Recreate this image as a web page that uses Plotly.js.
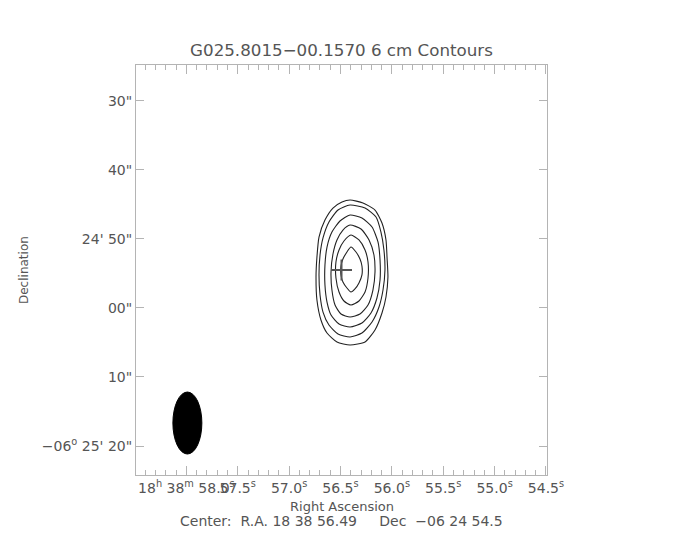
<!DOCTYPE html>
<html>
<head>
<meta charset="utf-8">
<script src="https://cdn.plot.ly/plotly-3.0.1.min.js"></script>
<style>html,body{margin:0;padding:0;background:#fff;}#plot{width:684px;height:540px;}</style>
</head>
<body>
<div id="plot"></div>
<script>
// Axis ticks: RA seconds (18h 38m xx.x s) and Dec arcsec south of -06d 24' 00"
const raTicks = [58.0, 57.5, 57.0, 56.5, 56.0, 55.5, 55.0, 54.5];
const raLabels = ["18<sup>h</sup> 38<sup>m</sup> 58.0<sup>s</sup>", "57.5<sup>s</sup>", "57.0<sup>s</sup>", "56.5<sup>s</sup>", "56.0<sup>s</sup>", "55.5<sup>s</sup>", "55.0<sup>s</sup>", "54.5<sup>s</sup>"];
const decTicks = [30, 40, 50, 60, 70, 80];
const decLabels = ["30\"", "40\"", "24' 50\"", "00\"", "10\"", "\u221206<sup>o</sup> 25' 20\""];

// Contour levels (outer to inner), RA seconds / Dec arcsec
const c1ra  = [56.407,56.281,56.164,56.096,56.057,56.047,56.038,56.057,56.096,56.164,56.261,56.407,56.534,56.631,56.690,56.729,56.738,56.729,56.709,56.651,56.573,56.485];
const c1dec = [44.36,44.79,45.81,47.69,50.15,52.62,55.51,58.41,60.73,63.19,64.93,65.37,64.93,63.63,61.74,58.85,55.51,52.62,49.72,47.26,45.52,44.65];
const c2ra  = [56.407,56.261,56.154,56.106,56.077,56.067,56.086,56.125,56.193,56.291,56.407,56.524,56.612,56.670,56.699,56.709,56.699,56.670,56.612,56.524];
const c2dec = [45.08,45.52,46.82,49.00,51.60,54.50,57.40,59.86,62.03,63.63,64.21,63.77,62.47,60.59,58.12,55.22,52.33,49.86,47.55,45.81];
const c3ra  = [56.407,56.291,56.193,56.135,56.115,56.115,56.145,56.203,56.291,56.407,56.514,56.592,56.631,56.651,56.651,56.631,56.583,56.505];
const c3dec = [46.53,46.97,48.27,50.44,53.05,55.95,58.56,60.73,62.18,62.76,62.32,61.02,59.14,56.67,53.78,51.17,49.00,47.40];
const c4ra  = [56.407,56.300,56.222,56.174,56.164,56.184,56.232,56.310,56.407,56.495,56.553,56.583,56.592,56.573,56.534,56.476];
const c4dec = [47.98,48.56,50.15,52.33,54.79,57.40,59.57,60.88,61.31,60.88,59.57,57.40,54.79,52.18,50.15,48.71];
const c5ra  = [56.398,56.320,56.261,56.232,56.232,56.261,56.320,56.398,56.466,56.514,56.544,56.544,56.514,56.466];
const c5dec = [49.43,50.15,51.60,53.34,55.66,57.69,58.99,59.57,58.99,57.69,55.66,53.34,51.60,50.30];
const c6ra  = [56.398,56.349,56.310,56.291,56.291,56.320,56.359,56.398,56.437,56.476,56.495,56.495,56.476,56.437];
const c6dec = [51.17,51.89,52.91,53.92,55.22,56.38,57.25,57.69,57.11,56.24,55.22,53.92,52.91,51.89];

// Map centre (cross) and beam
const centerRA = 56.49, centerDec = 54.5;
const beamRA = 57.99, beamDec = 76.67;
const beamWidthSec = 0.282;   // minor axis, RA seconds
const beamHeightArcsec = 8.98; // major axis, arcsec

const contours = [[c1ra,c1dec],[c2ra,c2dec],[c3ra,c3dec],[c4ra,c4dec],[c5ra,c5dec],[c6ra,c6dec]];
const traces = contours.map(([ra, dec]) => ({
  type: 'scatter', mode: 'lines',
  x: ra.concat([ra[0]]), y: dec.concat([dec[0]]),
  line: {color: '#222', width: 1.1, shape: 'spline', smoothing: 0.6},
  hoverinfo: 'skip', showlegend: false
}));
traces.push({
  type: 'scatter', mode: 'markers', x: [centerRA], y: [centerDec],
  marker: {symbol: 'cross-thin-open', size: 15, color: '#555', line: {color: '#555', width: 2}},
  showlegend: false, hoverinfo: 'skip'
});

const fontFam = 'DejaVu Sans, sans-serif';
const txt = '#555';
const axc = '#b4b4b4';

const layout = {
  width: 684, height: 540,
  margin: {l: 136, r: 137, t: 65, b: 65},
  paper_bgcolor: '#fff', plot_bgcolor: '#fff',
  showlegend: false,
  font: {family: fontFam, color: txt, size: 13},
  title: {text: 'G025.8015\u221200.1570 6 cm Contours', x: 0.5, xref: 'paper', y: 1 - 50/540, yanchor: 'middle',
          font: {family: fontFam, size: 16.7, color: txt}},
  xaxis: {
    range: [58.49, 54.49], tickmode: 'array', tickvals: raTicks, ticktext: raLabels, tickangle: 0,
    ticks: 'inside', ticklen: 9, tickwidth: 1, tickcolor: axc,
    minor: {dtick: 0.1, ticks: 'inside', ticklen: 5, tickcolor: axc, tickwidth: 1, showgrid: false},
    showline: true, linecolor: axc, linewidth: 1, mirror: 'allticks',
    showgrid: false, zeroline: false, tickfont: {family: fontFam, size: 14, color: txt}
  },
  yaxis: {
    range: [84.2, 24.8], tickmode: 'array', tickvals: decTicks, ticktext: decLabels,
    ticks: 'inside', ticklen: 8, tickwidth: 1, tickcolor: axc,
    showline: true, linecolor: axc, linewidth: 1, mirror: 'allticks',
    showgrid: false, zeroline: false, tickfont: {family: fontFam, size: 14, color: txt}
  },
  shapes: [{
    type: 'circle', xref: 'x', yref: 'y',
    x0: beamRA + beamWidthSec/2, x1: beamRA - beamWidthSec/2,
    y0: beamDec - beamHeightArcsec/2, y1: beamDec + beamHeightArcsec/2,
    fillcolor: '#000', line: {color: '#000', width: 1}
  }],
  annotations: [
    {text: 'Right Ascension', xref: 'paper', yref: 'paper', x: 0.5, y: -(506-475)/410, showarrow: false,
     yanchor: 'middle', font: {family: fontFam, size: 13, color: txt}},
    {text: 'Center:\u00a0\u00a0R.A.\u00a018\u00a038\u00a056.49\u00a0\u00a0\u00a0\u00a0\u00a0Dec\u00a0\u00a0\u221206\u00a024\u00a054.5',
     xref: 'paper', yref: 'paper', x: 0.5, y: -(521-475)/410, showarrow: false,
     yanchor: 'middle', font: {family: fontFam, size: 14, color: txt}},
    {text: 'Declination', xref: 'paper', yref: 'paper', x: (24-136)/411, y: 0.5, textangle: -90, showarrow: false,
     xanchor: 'center', yanchor: 'middle', font: {family: fontFam, size: 12, color: txt}}
  ]
};

Plotly.newPlot('plot', traces, layout, {staticPlot: true, displayModeBar: false});
</script>
</body>
</html>
